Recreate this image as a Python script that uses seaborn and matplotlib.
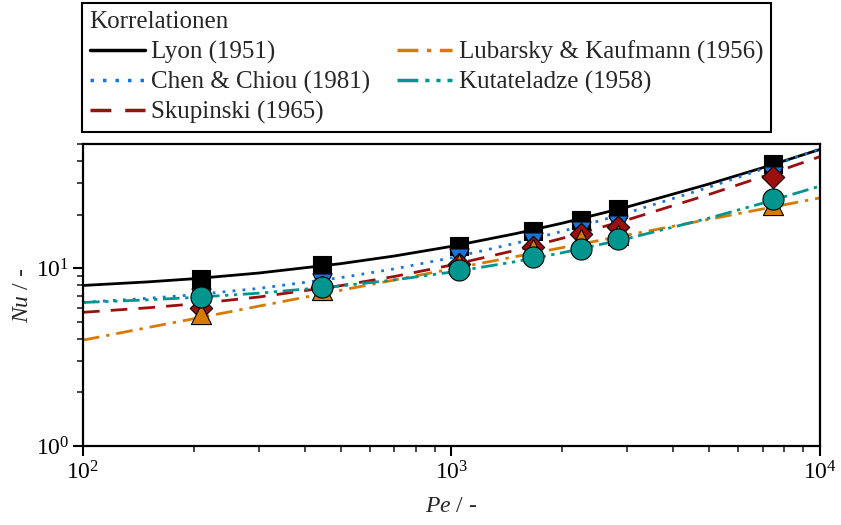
import numpy as np
import pandas as pd
import matplotlib
matplotlib.use("Agg")
import matplotlib.pyplot as plt
import seaborn as sns

# ---------------- data ----------------
pe_line = [100, 150, 200, 300, 500, 700, 1000, 1500, 2000, 3000, 5000, 7000, 10000]
nu_lyon = [8.00, 8.38, 8.73, 9.40, 10.61, 11.72, 13.28, 15.69, 17.94, 22.13, 29.79, 36.81, 46.62]
nu_chen = [6.43, 6.77, 7.09, 7.70, 8.85, 9.92, 11.45, 13.86, 16.15, 20.49, 28.58, 36.21, 47.05]
nu_skup = [5.65, 5.99, 6.30, 6.89, 7.98, 8.99, 10.42, 12.65, 14.75, 18.71, 26.01, 32.80, 42.47]
nu_luba = [3.94, 4.64, 5.20, 6.12, 7.51, 8.59, 9.91, 11.65, 13.07, 15.37, 18.86, 21.57, 24.88]
nu_kuta = [6.42, 6.64, 6.85, 7.24, 7.95, 8.60, 9.51, 10.91, 12.23, 14.68, 19.15, 23.25, 28.98]

pe_pts = [209, 446, 1047, 1664, 2244, 2831, 7448]
pts_lyon = [8.75, 10.4, 13.4, 16.2, 18.8, 21.6, 38.7]
pts_chen = [6.8, 8.3, 11.4, 14.1, 16.3, 17.6, 33.2]
pts_skup = [6.0, 7.8, 10.6, 13.2, 15.5, 17.1, 32.6]
pts_luba = [5.56, 7.5, 10.5, 12.8, 14.6, 15.4, 22.6]
pts_kuta = [6.9, 7.8, 9.75, 11.5, 12.9, 14.7, 24.4]

labels = ["Lyon (1951)", "Chen & Chiou (1981)", "Skupinski (1965)",
          "Lubarsky & Kaufmann (1956)", "Kutateladze (1958)"]

# ---------------- style ----------------
sns.set_theme(style="ticks")
plt.rcParams["font.family"] = ["Liberation Serif", "DejaVu Serif"]
plt.rcParams["mathtext.fontset"] = "custom"
plt.rcParams["mathtext.rm"] = "Liberation Serif"
plt.rcParams["mathtext.it"] = "Liberation Serif:italic"

colors = ["#000000", "#1a73d9", "#9b0f0f", "#d97a00", "#00968f"]
styles = ["-", (0, (1.0, 2.6)), (0, (6, 4)), (0, (6, 2.5, 1.2, 2.5)),
          (0, (6, 2, 1.2, 2, 1.2, 2))]
lws = [2.0, 2.0, 2.0, 2.0, 2.0]
markers = ["s", "v", "D", "^", "o"]
msizes = [150, 190, 130, 210, 230]

line_sets = [nu_lyon, nu_chen, nu_skup, nu_luba, nu_kuta]
pt_sets = [pts_lyon, pts_chen, pts_skup, pts_luba, pts_kuta]

fig = plt.figure(figsize=(8.41, 5.25), dpi=100)
ax = fig.add_axes([0.0987, 0.1505, 0.8763, 0.5752])

for lab, ys, c, ls, lw in zip(labels, line_sets, colors, styles, lws):
    df = pd.DataFrame({"Pe": pe_line, "Nu": ys})
    sns.lineplot(data=df, x="Pe", y="Nu", ax=ax, color=c, linestyle=ls,
                 linewidth=lw, label=lab, sort=False, zorder=2)

for ys, c, m, s in zip(pt_sets, colors, markers, msizes):
    df = pd.DataFrame({"Pe": pe_pts, "Nu": ys})
    sns.scatterplot(data=df, x="Pe", y="Nu", ax=ax, color=c, marker=m, s=s,
                    edgecolor="black", linewidth=0.8, zorder=3, legend=False)

ax.set_xscale("log")
ax.set_yscale("log")
ax.set_xlim(100, 10000)
ax.set_ylim(1, 50)

ax.set_xlabel(r"$Pe$ / -", fontsize=17, labelpad=8)
ax.set_ylabel(r"$Nu$ / -", fontsize=17, labelpad=2)

for sp in ax.spines.values():
    sp.set_visible(True)
    sp.set_linewidth(1.6)
    sp.set_color("black")

ax.tick_params(axis="both", which="major", direction="out", length=7, width=1.5,
               labelsize=17, colors="black", top=False, right=False)
ax.tick_params(axis="both", which="minor", direction="out", length=4, width=1.2,
               top=False, right=False)
ax.tick_params(axis="x", which="major", pad=4)
ax.tick_params(axis="y", which="major", pad=3)

handles, labs = ax.get_legend_handles_labels()
leg = ax.legend(handles, labs, loc="lower left", bbox_to_anchor=(-0.002, 1.04),
                ncol=2, title="Korrelationen", alignment="left",
                fontsize=18, title_fontsize=18, frameon=True, fancybox=False,
                edgecolor="black", handlelength=2.2, handletextpad=0.25,
                columnspacing=1.1, labelspacing=0.28, borderpad=0.32,
                borderaxespad=0.0)
leg.get_frame().set_linewidth(1.5)
leg.get_frame().set_alpha(1)
for ln in leg.get_lines():
    ln.set_linewidth(2.5)

fig.savefig("out.png", dpi=100)
